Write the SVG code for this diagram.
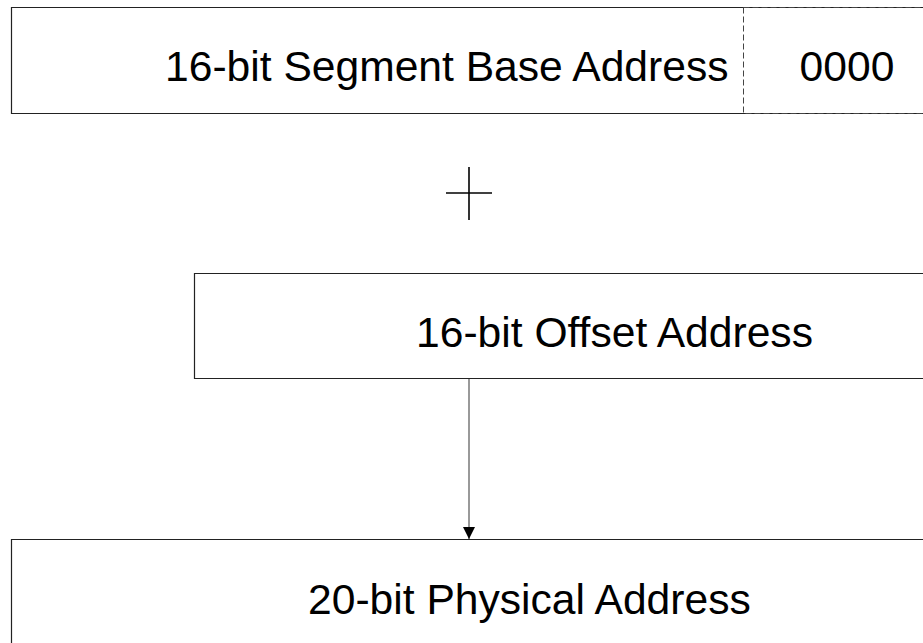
<svg xmlns="http://www.w3.org/2000/svg" width="923" height="643" viewBox="0 0 923 643">
<style>
.box{fill:#fff;stroke:#222;stroke-width:1.2}
.dash{fill:none;stroke:#444;stroke-width:1;stroke-dasharray:6,3}
.lbl{font-family:"Liberation Sans",Arial,sans-serif;font-size:42.6px;fill:#000}
.conn{stroke:#555;stroke-width:1.2;fill:none}
.plus{stroke:#000;stroke-width:1.6}
</style>
<defs>
<marker id="arr" markerWidth="12" markerHeight="14" refX="12" refY="6" orient="auto" markerUnits="userSpaceOnUse">
<path d="M0,0 L12,6 L0,12 Z" fill="#000"/>
</marker>
</defs>
<rect width="923" height="643" fill="#fff"/>
<g id="segment">
<path class="box" d="M930,7.5 H11.5 V113.5 H930"/>
<text class="lbl" x="165" y="81">16-bit Segment Base Address</text>
</g>
<g id="zeros">
<path class="dash" d="M743.5,7.5 H930 M743.5,7.5 V113.5 H930"/>
<text class="lbl" x="847" y="81" text-anchor="middle">0000</text>
</g>
<g id="plus">
<line class="plus" x1="469" y1="167" x2="469" y2="220"/>
<line class="plus" x1="446" y1="193" x2="492" y2="193"/>
</g>
<g id="offset">
<path class="box" d="M930,273.5 H194.5 V378.5 H930"/>
<text class="lbl" x="416" y="347">16-bit Offset Address</text>
</g>
<g id="physical">
<path class="box" d="M930,539.5 H11.5 V660"/>
<text class="lbl" x="308" y="613.5">20-bit Physical Address</text>
</g>
<g id="connectors">
<line class="conn" x1="469" y1="379" x2="469" y2="539" marker-end="url(#arr)"/>
</g>
</svg>
